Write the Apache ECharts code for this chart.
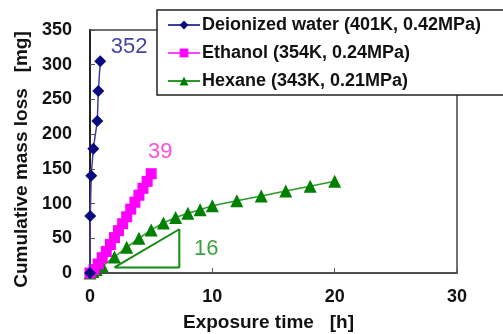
<!DOCTYPE html>
<html>
<head>
<meta charset="utf-8">
<script src="https://cdn.jsdelivr.net/npm/echarts@6/dist/echarts.min.js"></script>
<style>
  html, body { margin: 0; padding: 0; background: #fff; }
  #chart { width: 503px; height: 334px; }
</style>
</head>
<body>
<div id="chart"></div>
<script>
// data
var waterX = [0, 0.02, 0.1, 0.27, 0.6, 0.68, 0.84];
var waterY = [0, 82, 140, 179, 219, 262, 305];

var ethanolX = [0, 0.33, 0.67, 1, 1.33, 1.67, 2, 2.33, 2.67, 3, 3.33, 3.67, 4, 4.33, 4.67, 5];
var ethanolY = [0, 5, 13, 22, 31, 41, 51, 61, 71, 81, 92, 102, 112, 122, 132, 143];

var hexaneX = [0, 0.25, 0.5, 1, 2, 3, 4, 5, 6, 7, 8, 9, 10, 12, 14, 16, 18, 20];
var hexaneY = [0, 2, 5, 10, 23, 37, 50, 62, 72, 80, 86, 91, 97, 104, 111, 118, 125, 132];

// slope triangle under the hexane curve
var slopeX = [2, 7.3, 7.3, 2];
var slopeY = [8, 63, 8, 8];

// number labels next to the curves
var noteX = [3.2, 5.75, 9.5];
var noteY = [326, 174, 35];
var noteText = ['352', '39', '16'];
var noteColor = ['#10108c', '#ff22cc', '#108a10'];

var names = [
  'Deionized water (401K, 0.42MPa)',
  'Ethanol (354K, 0.24MPa)',
  'Hexane (343K, 0.21MPa)'
];

function pairs(xs, ys) {
  return xs.map(function (x, i) { return [x, ys[i]]; });
}

var chart = echarts.init(document.getElementById('chart'));

var font = 'Arial, "Liberation Sans", sans-serif';

chart.setOption({
  animation: false,
  textStyle: { fontFamily: font },
  grid: {
    left: 90, right: 46, top: 30, bottom: 61,
    outerBoundsMode: 'none',
    show: true, borderColor: '#444', borderWidth: 1.5
  },
  legend: {
    orient: 'vertical',
    left: 157, top: 10,
    data: names,
    backgroundColor: '#fff',
    borderColor: '#222', borderWidth: 1.5,
    padding: [6, 30, 5, 10],
    itemGap: 10,
    itemWidth: 32, itemHeight: 11,
    textStyle: { fontSize: 18, fontWeight: 'bold', color: '#111', fontFamily: font, padding: [0, 0, 0, -3] }
  },
  xAxis: {
    type: 'value', min: 0, max: 30, interval: 10,
    name: 'Exposure time   [h]',
    nameLocation: 'middle', nameGap: 40,
    nameTextStyle: { fontSize: 19, fontWeight: 'bold', color: '#111', padding: [0, 10, 0, 0] },
    axisLine: { lineStyle: { color: '#444', width: 1.5 } },
    axisTick: { inside: true, length: 5, lineStyle: { color: '#555' } },
    axisLabel: { fontSize: 18, fontWeight: 'bold', color: '#111', margin: 15 },
    splitLine: { show: false }
  },
  yAxis: {
    type: 'value', min: 0, max: 350, interval: 50,
    name: 'Cumulative mass loss   [mg]',
    nameLocation: 'middle', nameGap: 58,
    nameTextStyle: { fontSize: 19, fontWeight: 'bold', color: '#111', padding: [0, 16, 0, 0] },
    axisLine: { lineStyle: { color: '#222', width: 2 } },
    axisTick: { inside: true, length: 5, lineStyle: { color: '#555' } },
    axisLabel: { fontSize: 18, fontWeight: 'bold', color: '#111', margin: 18 },
    splitLine: { show: false }
  },
  series: [
    {
      name: names[0], type: 'line',
      data: pairs(waterX, waterY),
      symbol: 'diamond', symbolSize: 12,
      showAllSymbol: true,
      itemStyle: { color: '#0a0a80' },
      lineStyle: { color: '#4040a0', width: 1.5 },
      z: 5
    },
    {
      name: names[1], type: 'line',
      data: pairs(ethanolX, ethanolY),
      symbol: 'rect', symbolSize: 11,
      showAllSymbol: true,
      itemStyle: { color: '#ff00ff' },
      lineStyle: { color: '#ff44ff', width: 1.5 },
      z: 4
    },
    {
      name: names[2], type: 'line',
      data: pairs(hexaneX, hexaneY),
      symbol: 'triangle', symbolSize: 13,
      showAllSymbol: true,
      itemStyle: { color: '#008000' },
      lineStyle: { color: '#2a9a2a', width: 1.5 },
      z: 3
    },
    {
      name: 'slope', type: 'line',
      data: pairs(slopeX, slopeY),
      symbol: 'none',
      lineStyle: { color: '#108c10', width: 2 },
      z: 2
    },
    {
      name: 'notes', type: 'scatter',
      data: noteX.map(function (x, i) {
        return {
          value: [x, noteY[i], noteText[i]],
          label: { color: noteColor[i] }
        };
      }),
      symbolSize: 1,
      itemStyle: { color: 'rgba(0,0,0,0)' },
      label: {
        show: true, position: 'inside',
        fontSize: 22, fontFamily: font,
        textBorderWidth: 0,
        formatter: function (p) { return p.value[2]; }
      },
      z: 6
    }
  ]
});
</script>
</body>
</html>
